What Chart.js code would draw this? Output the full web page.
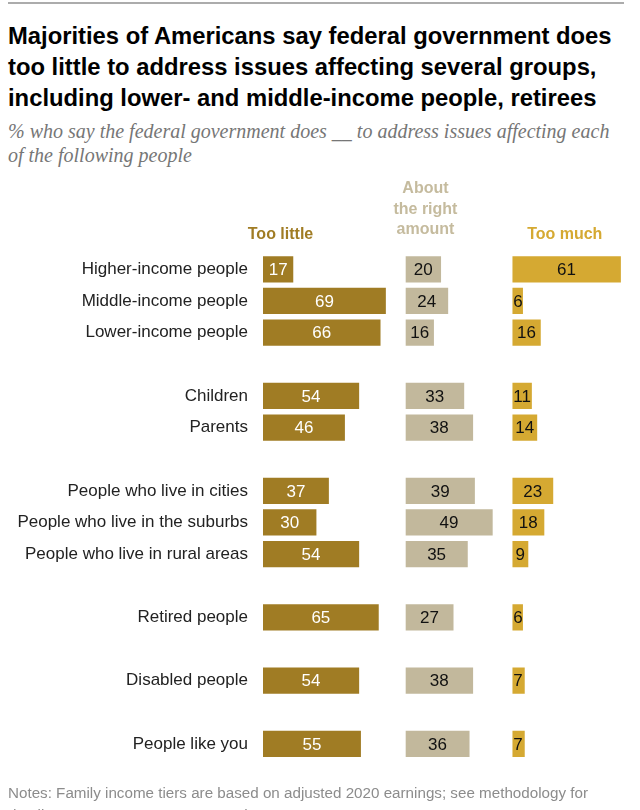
<!DOCTYPE html>
<html>
<head>
<meta charset="utf-8">
<script src="https://cdn.jsdelivr.net/npm/chart.js@4.4.0/dist/chart.umd.min.js"></script>
<style>
  body { margin: 0; width: 640px; height: 810px; overflow: hidden; background: #fff; font-family: "Liberation Sans", Arial, sans-serif; }
  .rule { position: absolute; left: 8px; right: 16px; top: 2px; border-top: 2px solid #acacac; }
  h1 { position: absolute; left: 8px; top: 20px; margin: 0; font-size: 23.8px; line-height: 31px; font-weight: bold; color: #000; white-space: nowrap; }
  .sub { position: absolute; left: 8px; top: 119px; font-family: "Liberation Serif", serif; font-style: italic; font-size: 20px; line-height: 24px; color: #767676; white-space: nowrap; }
  .chart { position: absolute; left: 0; top: 175px; width: 640px; height: 610px; }
  .notes { position: absolute; left: 8px; top: 782px; font-size: 15.2px; line-height: 22px; color: #8c8c8c; white-space: nowrap; }
</style>
</head>
<body>
<div class="rule"></div>
<h1>Majorities of Americans say federal government does<br>too little to address issues affecting several groups,<br>including lower- and middle-income people, retirees</h1>
<div class="sub">% who say the federal government does __ to address issues affecting each<br>of the following people</div>
<div class="chart"><canvas id="chart"></canvas></div>
<div class="notes">Notes: Family income tiers are based on adjusted 2020 earnings; see methodology for<br>details. No answer responses not shown.</div>

<script>
// --- DATA ---
// lege labels = witruimte tussen de groepen
const categories = [
  'Higher-income people', 'Middle-income people', 'Lower-income people', '',
  'Children', 'Parents', '',
  'People who live in cities', 'People who live in the suburbs', 'People who live in rural areas', '',
  'Retired people', '',
  'Disabled people', '',
  'People like you'
];
const tooLittle  = [17, 69, 66, null, 54, 46, null, 37, 30, 54, null, 65, null, 54, null, 55];
const aboutRight = [20, 24, 16, null, 33, 38, null, 39, 49, 35, null, 27, null, 38, null, 36];
const tooMuch    = [61, 6, 16, null, 11, 14, null, 23, 18, 9, null, 6, null, 7, null, 7];
const seriesNames = ['Too little', ['About', 'the right', 'amount'], 'Too much'];

// --- STYLE ---
const FONT = '"Liberation Sans", Arial, sans-serif';
const colors = ['#A07C24', '#C2B89C', '#D5A932'];
const headerColors = ['#A07C24', '#C5BB9E', '#D5A932'];
const labelColors = ['#ffffff', '#111111', '#111111'];
const headerOffsetX = [17.5, 20, 52.5];   // px vanaf begin van de kolom
const headerLastY = [60, 55, 60];         // px vanaf bovenkant canvas
const axisMax = [80, 60, 65];             // breedte van elke kolom in procentpunten

// --- PLUGINS ---
const valueLabels = {
  id: 'valueLabels',
  afterDatasetsDraw(chart) {
    const ctx = chart.ctx;
    ctx.save();
    ctx.font = '17px ' + FONT;
    ctx.textBaseline = 'middle';
    chart.data.datasets.forEach((ds, i) => {
      const meta = chart.getDatasetMeta(i);
      meta.data.forEach((bar, j) => {
        const v = ds.data[j];
        if (v == null) return;
        const txt = String(v);
        const w = ctx.measureText(txt).width;
        const left = Math.min(bar.base, bar.x);
        const width = Math.abs(bar.x - bar.base);
        ctx.fillStyle = labelColors[i];
        if (width >= w + 6) {
          ctx.textAlign = 'center';
          ctx.fillText(txt, left + width / 2, bar.y + 1);
        } else {
          ctx.textAlign = 'left';
          ctx.fillText(txt, left + 1, bar.y + 1);
        }
      });
    });
    ctx.restore();
  }
};

const headers = {
  id: 'headers',
  afterDraw(chart) {
    const ctx = chart.ctx;
    ctx.save();
    ctx.font = 'bold 16px ' + FONT;
    ctx.textAlign = 'center';
    ctx.textBaseline = 'middle';
    chart.data.datasets.forEach((ds, i) => {
      const scale = chart.scales[ds.xAxisID];
      const lines = [].concat(seriesNames[i]);
      const x = scale.left + headerOffsetX[i];
      ctx.fillStyle = headerColors[i];
      lines.forEach((ln, k) => {
        ctx.fillText(ln, x, headerLastY[i] - (lines.length - 1 - k) * 20.5);
      });
    });
    ctx.restore();
  }
};

// --- CHART ---
const seriesData = [tooLittle, aboutRight, tooMuch];
const axisIds = ['x1', 'x2', 'x3'];

const xScale = (i) => ({
  type: 'linear',
  position: 'bottom',
  stack: 'cols',
  stackWeight: axisMax[i],
  min: 0,
  max: axisMax[i],
  display: false
});

new Chart(document.getElementById('chart'), {
  type: 'bar',
  data: {
    labels: categories,
    datasets: seriesData.map((d, i) => ({
      label: [].concat(seriesNames[i]).join(' '),
      data: d,
      xAxisID: axisIds[i],
      backgroundColor: colors[i],
      grouped: false,
      barPercentage: 0.83,
      categoryPercentage: 1
    }))
  },
  options: {
    indexAxis: 'y',
    responsive: true,
    maintainAspectRatio: false,
    animation: false,
    layout: { padding: { top: 78.5, right: 12, bottom: 15, left: 0 } },
    plugins: { legend: { display: false }, tooltip: { enabled: false } },
    scales: {
      y: {
        grid: { display: false, drawTicks: false },
        border: { display: false },
        ticks: { color: '#222', font: { size: 17, family: FONT }, padding: 15, autoSkip: false },
        afterFit(s) { s.width = 263; }
      },
      x1: xScale(0),
      x2: xScale(1),
      x3: xScale(2)
    }
  },
  plugins: [valueLabels, headers]
});
</script>
</body>
</html>
